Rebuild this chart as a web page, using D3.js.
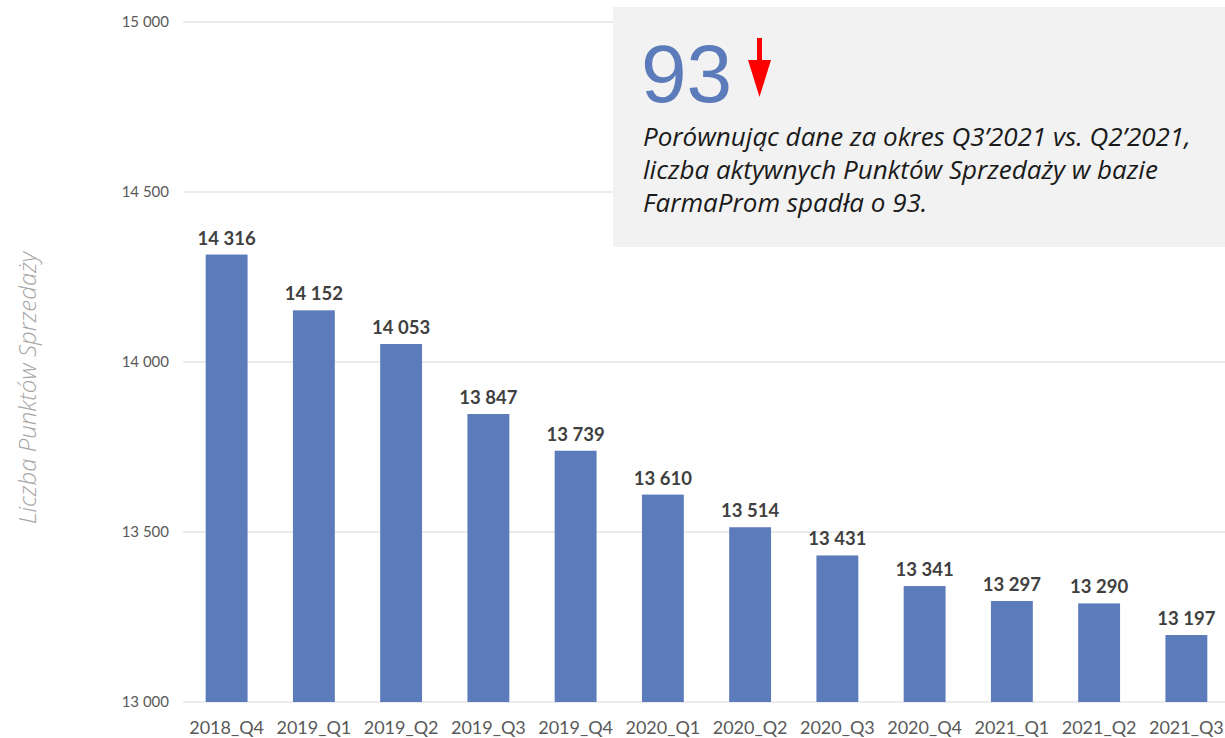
<!DOCTYPE html>
<html>
<head>
<meta charset="utf-8">
<script src="https://cdn.jsdelivr.net/npm/d3@7"></script>
<style>
  body { margin: 0; background: #fff; }
  svg { display: block; }
</style>
</head>
<body>
<div id="chart"></div>
<script>
// dane --------------------------------------------------------
const kwartaly = ["2018_Q4", "2019_Q1", "2019_Q2", "2019_Q3", "2019_Q4", "2020_Q1",
  "2020_Q2", "2020_Q3", "2020_Q4", "2021_Q1", "2021_Q2", "2021_Q3"];
const punkty = [14316, 14152, 14053, 13847, 13739, 13610, 13514, 13431, 13341, 13297, 13290, 13197];
const yTicks = [13000, 13500, 14000, 14500, 15000];
const zmiana = "93";
const opis = [
  "Porównując dane za okres Q3’2021 vs. Q2’2021,",
  "liczba aktywnych Punktów Sprzedaży w bazie",
  "FarmaProm spadła o 93."
];
const tytulY = "Liczba Punktów Sprzedaży";

const W = 1225, H = 738;
const margin = { top: 22, right: 0, bottom: 36, left: 183 };
const width = W - margin.left - margin.right;
const height = H - margin.top - margin.bottom;
// obszar wykresu wychodzi lekko poza kadr z prawej
const plotWidth = 1047;

const fmt = (v) => d3.format(",")(v).replace(/,/g, " ");

const svg = d3.select("#chart").append("svg")
  .attr("width", W).attr("height", H);

const g = svg.append("g")
  .attr("transform", `translate(${margin.left},${margin.top})`);

// skale
const x = d3.scaleBand().domain(kwartaly).range([0, plotWidth]).paddingInner(0.52).paddingOuter(0.26);
const y = d3.scaleLinear().domain([13000, 15000]).range([height, 0]);

// siatka
g.append("g")
  .selectAll("line")
  .data(yTicks)
  .join("line")
  .attr("x1", 0).attr("x2", width)
  .attr("y1", d => y(d)).attr("y2", d => y(d))
  .attr("stroke", "#d9d9d9").attr("stroke-width", 1);

// etykiety osi Y
g.append("g")
  .selectAll("text")
  .data(yTicks)
  .join("text")
  .attr("x", -14).attr("y", d => y(d))
  .attr("dy", "0.35em")
  .attr("text-anchor", "end")
  .attr("font-family", "Lato")
  .attr("font-size", 15)
  .attr("fill", "#595959")
  .text(fmt);

// słupki
g.append("g")
  .selectAll("rect")
  .data(punkty)
  .join("rect")
  .attr("x", (d, i) => x(kwartaly[i]))
  .attr("y", d => y(d))
  .attr("width", x.bandwidth())
  .attr("height", d => height - y(d))
  .attr("fill", "#5b7bbb");

// wartości
g.append("g")
  .selectAll("text")
  .data(punkty)
  .join("text")
  .attr("x", (d, i) => x(kwartaly[i]) + x.bandwidth() / 2)
  .attr("y", d => y(d) - 10)
  .attr("text-anchor", "middle")
  .attr("font-family", "Lato")
  .attr("font-weight", "bold")
  .attr("font-size", 18.5)
  .attr("fill", "#404040")
  .text(fmt);

// etykiety osi X
g.append("g")
  .selectAll("text")
  .data(kwartaly)
  .join("text")
  .attr("x", d => x(d) + x.bandwidth() / 2)
  .attr("y", height + 32)
  .attr("text-anchor", "middle")
  .attr("font-family", "Lato")
  .attr("font-size", 18)
  .attr("fill", "#595959")
  .text(d => d);

// tytuł osi Y
svg.append("text")
  .attr("transform", `translate(36, 388) rotate(-90)`)
  .attr("text-anchor", "middle")
  .attr("font-family", "Open Sans")
  .attr("font-weight", 300)
  .attr("font-style", "italic")
  .attr("font-size", 24)
  .attr("fill", "#a6a6a6")
  .text(tytulY);

// ramka z komentarzem
const box = svg.append("g");
box.append("rect")
  .attr("x", 613).attr("y", 7)
  .attr("width", W - 613).attr("height", 240)
  .attr("fill", "#f2f2f2");

box.append("text")
  .attr("x", 641).attr("y", 102)
  .attr("font-family", "Liberation Sans")
  .attr("font-size", 82)
  .attr("fill", "#5b7bbb")
  .text(zmiana);

// strzałka w dół
box.append("path")
  .attr("d", "M757,38 L762,38 L762,60 L771,60 L759.5,97 L748,60 L757,60 Z")
  .attr("fill", "#ff0000");

box.append("g")
  .selectAll("text")
  .data(opis)
  .join("text")
  .attr("x", 643)
  .attr("y", (d, i) => 146 + i * 33)
  .attr("font-family", "Open Sans")
  .attr("font-style", "italic")
  .attr("font-size", 26)
  .attr("fill", "#1a1a1a")
  .text(d => d);
</script>
</body>
</html>
